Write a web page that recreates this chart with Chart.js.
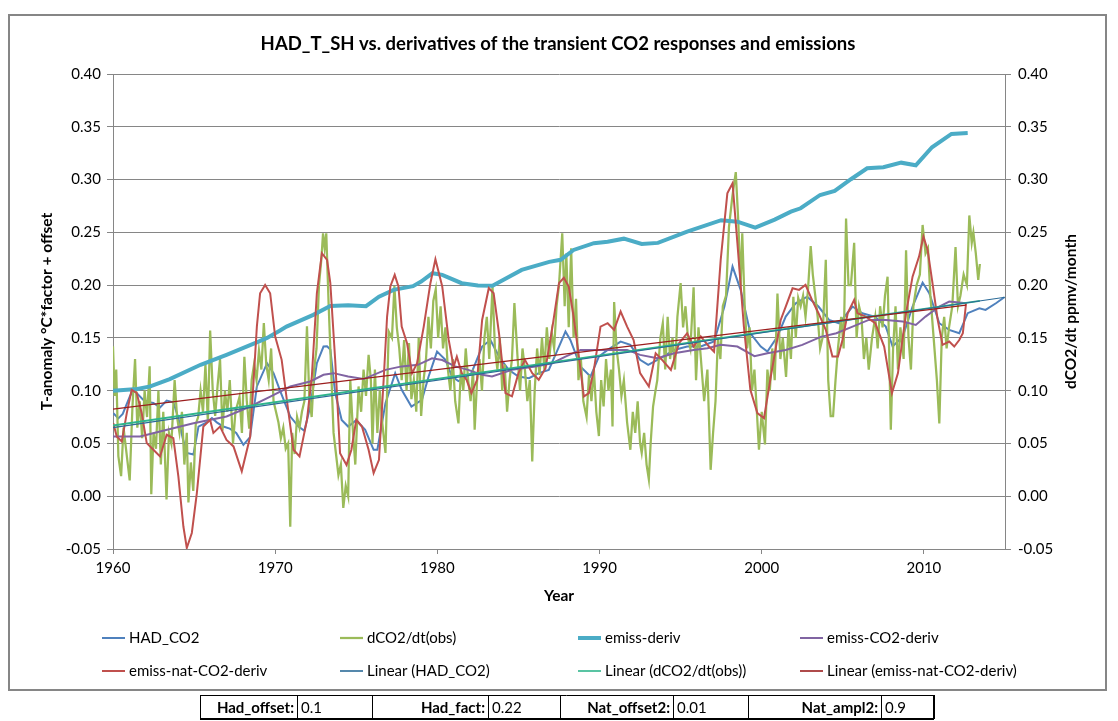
<!DOCTYPE html>
<html><head><meta charset="utf-8">
<script src="https://cdn.jsdelivr.net/npm/chart.js@4/dist/chart.umd.min.js"></script>
<style>
html,body{margin:0;padding:0;background:#fff;}
canvas{display:block;}
</style></head><body>
<canvas id="c" width="1118" height="721"></canvas>
<script>
// ---------- DATA ----------
const chartTitle = 'HAD_T_SH vs. derivatives of the transient CO2 responses and emissions';
const xAxisTitle = 'Year';
const yAxisTitle = 'T-anomaly °C*factor + offset';
const y2AxisTitle = 'dCO2/dt ppmv/month';
const xTickValues = [1960, 1970, 1980, 1990, 2000, 2010];
const yTickValues = [-0.05, 0.00, 0.05, 0.10, 0.15, 0.20, 0.25, 0.30, 0.35, 0.40];
const tableLabels = ['Had_offset:', 'Had_fact:', 'Nat_offset2:', 'Nat_ampl2:'];
const tableValues = ['0.1', '0.22', '0.01', '0.9'];

const hadCO2 = [[1960.02,0.0787],[1960.33,0.0737],[1960.6,0.078],[1961.05,0.095],[1961.25,0.1003],[1961.5,0.097],[1961.87,0.0913],[1962.2,0.089],[1962.49,0.0884],[1962.9,0.084],[1963.31,0.0906],[1963.72,0.089],[1964.03,0.0742],[1964.3,0.055],[1964.55,0.041],[1964.96,0.0395],[1965.27,0.066],[1965.78,0.070],[1966.1,0.074],[1966.4,0.070],[1966.8,0.066],[1967.2,0.064],[1967.6,0.060],[1968.04,0.0487],[1968.45,0.056],[1968.87,0.104],[1969.5,0.126],[1969.9,0.1166],[1970.3,0.100],[1970.93,0.0755],[1971.44,0.066],[1971.8,0.062],[1972.16,0.085],[1972.57,0.126],[1972.98,0.1418],[1973.2,0.142],[1973.4,0.139],[1973.7,0.0977],[1974.1,0.0723],[1974.5,0.066],[1975.0,0.072],[1975.55,0.0629],[1976.07,0.044],[1976.3,0.044],[1976.8,0.0882],[1977.4,0.1166],[1977.8,0.1008],[1978.4,0.085],[1979.05,0.0913],[1979.46,0.1134],[1979.98,0.137],[1980.5,0.1292],[1980.9,0.1134],[1981.3,0.109],[1981.7,0.112],[1982.1,0.1166],[1982.76,0.1418],[1983.27,0.148],[1983.8,0.1323],[1984.4,0.1197],[1985.0,0.1134],[1985.65,0.1118],[1986.25,0.1166],[1986.87,0.1197],[1987.5,0.1418],[1987.9,0.156],[1988.2,0.148],[1988.83,0.1228],[1989.44,0.1134],[1989.96,0.1323],[1990.5,0.1386],[1991.3,0.1465],[1991.9,0.1434],[1992.5,0.1292],[1993.0,0.1244],[1993.77,0.1308],[1994.6,0.1386],[1995.4,0.1418],[1996.24,0.1418],[1997.06,0.1466],[1997.7,0.1797],[1998.2,0.2175],[1998.7,0.1955],[1999.3,0.1544],[1999.94,0.1418],[2000.35,0.137],[2000.97,0.1513],[2001.48,0.1702],[2002.1,0.1828],[2002.8,0.189],[2003.5,0.1797],[2004.15,0.167],[2004.77,0.1639],[2005.6,0.1797],[2006.2,0.1733],[2007.0,0.170],[2007.65,0.1607],[2008.07,0.1418],[2008.7,0.1513],[2009.3,0.1797],[2009.92,0.2024],[2010.33,0.1923],[2010.95,0.1639],[2011.56,0.1576],[2012.18,0.1544],[2012.7,0.1734],[2013.42,0.1781],[2013.8,0.1765],[2014.44,0.1828],[2014.96,0.1885]];

const dCO2obs = [[1960.00,0.142],[1960.10,0.095],[1960.20,0.120],[1960.33,0.038],[1960.50,0.019],[1960.65,0.065],[1960.80,0.045],[1961.03,0.015],[1961.20,0.085],[1961.36,0.130],[1961.50,0.065],[1961.65,0.090],[1961.80,0.055],[1961.95,0.100],[1962.10,0.075],[1962.26,0.123],[1962.36,0.002],[1962.50,0.060],[1962.65,0.045],[1962.80,0.100],[1962.95,0.030],[1963.10,0.080],[1963.30,-0.003],[1963.45,0.060],[1963.60,0.050],[1963.80,0.110],[1963.95,0.075],[1964.10,0.060],[1964.25,0.080],[1964.40,0.030],[1964.55,0.060],[1964.65,-0.006],[1964.80,0.032],[1964.95,0.005],[1965.10,0.068],[1965.25,0.075],[1965.40,0.100],[1965.55,0.080],[1965.70,0.125],[1965.85,0.070],[1965.99,0.157],[1966.15,0.100],[1966.30,0.076],[1966.45,0.105],[1966.60,0.130],[1966.75,0.062],[1966.90,0.100],[1967.05,0.080],[1967.20,0.110],[1967.40,0.050],[1967.55,0.080],[1967.80,0.094],[1967.95,0.060],[1968.10,0.132],[1968.25,0.090],[1968.40,0.064],[1968.55,0.110],[1968.70,0.125],[1968.85,0.110],[1969.00,0.138],[1969.15,0.120],[1969.30,0.164],[1969.45,0.125],[1969.60,0.110],[1969.75,0.140],[1969.90,0.090],[1970.05,0.080],[1970.20,0.070],[1970.35,0.055],[1970.50,0.065],[1970.65,0.045],[1970.80,0.050],[1970.93,-0.029],[1971.05,0.060],[1971.20,0.040],[1971.35,0.075],[1971.50,0.065],[1971.65,0.080],[1971.80,0.090],[1971.96,0.161],[1972.10,0.095],[1972.25,0.075],[1972.40,0.120],[1972.55,0.140],[1972.70,0.200],[1972.85,0.225],[1972.95,0.249],[1973.05,0.235],[1973.15,0.249],[1973.30,0.180],[1973.45,0.120],[1973.60,0.060],[1973.75,0.040],[1973.90,0.020],[1974.05,0.030],[1974.20,-0.011],[1974.35,0.010],[1974.50,0.000],[1974.63,0.110],[1974.80,0.060],[1974.94,0.030],[1975.14,0.104],[1975.30,0.080],[1975.45,0.120],[1975.60,0.095],[1975.76,0.134],[1975.90,0.110],[1976.00,0.050],[1976.15,0.120],[1976.30,0.060],[1976.45,0.100],[1976.60,0.070],[1976.80,0.041],[1977.00,0.156],[1977.20,0.150],[1977.35,0.199],[1977.50,0.160],[1977.65,0.140],[1977.80,0.110],[1977.95,0.148],[1978.10,0.100],[1978.25,0.145],[1978.40,0.092],[1978.55,0.110],[1978.70,0.080],[1978.85,0.150],[1979.00,0.076],[1979.15,0.110],[1979.30,0.130],[1979.45,0.170],[1979.60,0.140],[1979.75,0.185],[1979.90,0.196],[1980.05,0.150],[1980.20,0.180],[1980.35,0.140],[1980.50,0.160],[1980.65,0.120],[1980.80,0.100],[1980.95,0.130],[1981.10,0.090],[1981.30,0.069],[1981.45,0.120],[1981.60,0.100],[1981.75,0.140],[1981.90,0.110],[1982.05,0.090],[1982.20,0.120],[1982.30,0.063],[1982.45,0.110],[1982.60,0.130],[1982.75,0.100],[1982.90,0.150],[1983.05,0.170],[1983.20,0.130],[1983.40,0.199],[1983.55,0.140],[1983.70,0.120],[1983.85,0.150],[1984.00,0.100],[1984.15,0.125],[1984.30,0.080],[1984.45,0.110],[1984.60,0.130],[1984.75,0.183],[1984.95,0.130],[1985.10,0.100],[1985.25,0.140],[1985.40,0.120],[1985.55,0.090],[1985.70,0.110],[1985.85,0.033],[1986.00,0.100],[1986.15,0.140],[1986.30,0.115],[1986.45,0.150],[1986.60,0.120],[1986.75,0.160],[1986.90,0.130],[1987.05,0.155],[1987.20,0.140],[1987.35,0.180],[1987.50,0.200],[1987.70,0.249],[1987.85,0.180],[1987.95,0.230],[1988.10,0.160],[1988.25,0.235],[1988.40,0.150],[1988.55,0.187],[1988.70,0.110],[1988.85,0.130],[1989.00,0.090],[1989.20,0.075],[1989.35,0.115],[1989.50,0.090],[1989.65,0.120],[1989.80,0.080],[1989.96,0.057],[1990.10,0.110],[1990.25,0.085],[1990.40,0.130],[1990.55,0.100],[1990.70,0.120],[1990.80,0.066],[1990.90,0.184],[1991.05,0.140],[1991.20,0.120],[1991.35,0.095],[1991.50,0.110],[1991.70,0.070],[1991.90,0.044],[1992.05,0.080],[1992.20,0.060],[1992.35,0.090],[1992.50,0.050],[1992.60,0.041],[1992.75,0.060],[1992.90,0.030],[1993.04,0.016],[1993.15,0.050],[1993.30,0.085],[1993.45,0.100],[1993.56,0.110],[1993.75,0.150],[1993.90,0.164],[1994.05,0.120],[1994.20,0.170],[1994.35,0.130],[1994.50,0.150],[1994.65,0.120],[1994.80,0.170],[1995.00,0.202],[1995.15,0.160],[1995.30,0.180],[1995.45,0.150],[1995.60,0.140],[1995.80,0.198],[1995.95,0.110],[1996.10,0.160],[1996.25,0.130],[1996.45,0.090],[1996.65,0.120],[1996.85,0.025],[1997.00,0.060],[1997.15,0.090],[1997.30,0.150],[1997.45,0.130],[1997.60,0.180],[1997.80,0.190],[1997.98,0.255],[1998.19,0.284],[1998.40,0.307],[1998.55,0.262],[1998.70,0.200],[1998.80,0.249],[1998.95,0.180],[1999.10,0.140],[1999.25,0.160],[1999.40,0.100],[1999.55,0.120],[1999.70,0.080],[1999.83,0.044],[2000.00,0.080],[2000.20,0.049],[2000.35,0.120],[2000.50,0.100],[2000.65,0.140],[2000.80,0.110],[2000.97,0.192],[2001.15,0.130],[2001.30,0.150],[2001.50,0.113],[2001.65,0.160],[2001.80,0.130],[2001.95,0.189],[2002.10,0.150],[2002.25,0.188],[2002.40,0.180],[2002.55,0.190],[2002.70,0.170],[2002.85,0.195],[2003.02,0.237],[2003.15,0.210],[2003.30,0.190],[2003.45,0.170],[2003.60,0.140],[2003.75,0.150],[2003.95,0.224],[2004.10,0.110],[2004.25,0.076],[2004.40,0.076],[2004.55,0.110],[2004.70,0.140],[2004.90,0.170],[2005.05,0.140],[2005.20,0.263],[2005.35,0.200],[2005.50,0.200],[2005.70,0.240],[2005.85,0.150],[2006.00,0.180],[2006.15,0.170],[2006.30,0.130],[2006.45,0.150],[2006.60,0.120],[2006.80,0.150],[2007.00,0.170],[2007.15,0.140],[2007.30,0.180],[2007.45,0.160],[2007.60,0.190],[2007.76,0.208],[2007.96,0.063],[2008.10,0.140],[2008.25,0.180],[2008.40,0.120],[2008.55,0.160],[2008.75,0.130],[2008.90,0.233],[2009.05,0.150],[2009.20,0.120],[2009.35,0.180],[2009.55,0.200],[2009.75,0.210],[2009.92,0.257],[2010.10,0.230],[2010.25,0.235],[2010.40,0.190],[2010.60,0.150],[2010.80,0.110],[2010.95,0.069],[2011.10,0.150],[2011.25,0.170],[2011.40,0.140],[2011.55,0.160],[2011.75,0.180],[2011.95,0.236],[2012.10,0.180],[2012.25,0.190],[2012.45,0.210],[2012.65,0.200],[2012.80,0.266],[2012.95,0.240],[2013.05,0.250],[2013.20,0.230],[2013.35,0.205],[2013.45,0.220]];

const emissDeriv = [[1960.0,0.100],[1961.5,0.1015],[1962.3,0.104],[1963.5,0.111],[1965.4,0.1245],[1967.0,0.134],[1968.9,0.146],[1969.5,0.150],[1970.3,0.157],[1970.7,0.1607],[1972.35,0.1718],[1973.4,0.1803],[1974.5,0.181],[1975.6,0.1800],[1976.4,0.189],[1977.3,0.1955],[1978.5,0.199],[1979.0,0.2034],[1979.7,0.2113],[1980.3,0.2097],[1981.5,0.2018],[1982.5,0.1997],[1983.4,0.1995],[1985.2,0.2144],[1986.9,0.222],[1987.6,0.224],[1988.4,0.2333],[1989.65,0.2397],[1990.5,0.241],[1991.5,0.2440],[1992.6,0.2390],[1993.6,0.2400],[1995.4,0.2507],[1997.5,0.2615],[1998.5,0.2601],[1999.6,0.2545],[2000.8,0.2620],[2001.8,0.2696],[2002.4,0.2728],[2003.6,0.2854],[2004.5,0.2892],[2005.5,0.3003],[2006.5,0.3107],[2007.5,0.3117],[2008.6,0.316],[2009.5,0.3135],[2010.5,0.3306],[2011.7,0.3432],[2012.7,0.344]];

const emissCO2Deriv = [[1960.0,0.0566],[1961.67,0.0566],[1962.9,0.0613],[1964.96,0.0692],[1967.0,0.0755],[1968.46,0.085],[1969.7,0.0944],[1970.93,0.1039],[1972.16,0.1087],[1972.98,0.115],[1973.6,0.1166],[1974.5,0.1135],[1975.45,0.111],[1976.8,0.1197],[1977.8,0.123],[1978.8,0.1245],[1979.67,0.1307],[1980.3,0.129],[1981.1,0.123],[1981.9,0.1197],[1982.76,0.115],[1983.37,0.1134],[1984.6,0.1197],[1986.05,0.123],[1987.08,0.126],[1987.9,0.1323],[1988.83,0.1386],[1990.06,0.1386],[1991.7,0.1386],[1992.5,0.1339],[1993.56,0.1307],[1994.6,0.1355],[1995.8,0.1386],[1996.65,0.1402],[1997.47,0.1434],[1998.5,0.1418],[1999.55,0.1327],[2000.35,0.1355],[2001.48,0.1386],[2002.5,0.1434],[2003.64,0.151],[2004.6,0.1544],[2005.6,0.1607],[2006.6,0.167],[2007.65,0.167],[2008.7,0.1655],[2009.5,0.1623],[2010.1,0.1702],[2010.95,0.1797],[2011.56,0.1844],[2012.6,0.1828]];

const emissNatCO2Deriv = [[1960.02,0.0692],[1960.23,0.0566],[1960.54,0.0518],[1960.85,0.0787],[1961.15,0.1008],[1961.46,0.098],[1961.77,0.0787],[1962.08,0.0503],[1962.49,0.044],[1962.9,0.0377],[1963.31,0.0582],[1963.72,0.055],[1964.03,0.0187],[1964.34,-0.0287],[1964.55,-0.049],[1964.86,-0.0348],[1965.17,0.003],[1965.57,0.066],[1965.99,0.0723],[1966.19,0.060],[1966.6,0.066],[1967.0,0.0534],[1967.43,0.0472],[1967.94,0.0236],[1968.46,0.0566],[1968.87,0.1607],[1969.07,0.1923],[1969.38,0.2002],[1969.69,0.1923],[1970.0,0.1513],[1970.4,0.1292],[1970.8,0.0818],[1971.13,0.044],[1971.5,0.0377],[1971.96,0.0723],[1972.26,0.1134],[1972.57,0.1923],[1972.88,0.2302],[1973.2,0.2239],[1973.4,0.2018],[1973.7,0.129],[1974.0,0.0408],[1974.4,0.0297],[1974.7,0.044],[1975.0,0.0723],[1975.35,0.066],[1975.76,0.044],[1976.07,0.0219],[1976.4,0.0345],[1976.7,0.1134],[1976.9,0.1702],[1977.1,0.1987],[1977.37,0.2097],[1977.6,0.1987],[1977.8,0.1607],[1978.13,0.145],[1978.44,0.1166],[1978.75,0.126],[1979.16,0.1607],[1979.57,0.2018],[1979.88,0.2245],[1980.3,0.1987],[1980.7,0.1481],[1981.0,0.1228],[1981.2,0.1323],[1981.5,0.1166],[1981.8,0.1103],[1982.1,0.0977],[1982.45,0.1103],[1982.76,0.167],[1983.17,0.1971],[1983.47,0.1923],[1983.8,0.1544],[1984.2,0.0977],[1984.6,0.0946],[1985.0,0.1166],[1985.4,0.1292],[1985.85,0.1166],[1986.25,0.1103],[1986.67,0.1213],[1987.1,0.1607],[1987.5,0.2018],[1987.8,0.207],[1988.1,0.1987],[1988.4,0.1702],[1988.7,0.1355],[1989.03,0.0945],[1989.34,0.0977],[1989.65,0.1197],[1990.06,0.1607],[1990.5,0.1639],[1990.9,0.1576],[1991.3,0.175],[1991.7,0.1607],[1992.1,0.148],[1992.5,0.1166],[1993.04,0.104],[1993.46,0.1355],[1993.87,0.129],[1994.4,0.1197],[1994.9,0.145],[1995.4,0.1544],[1995.8,0.1418],[1996.24,0.1513],[1996.75,0.1418],[1997.06,0.137],[1997.47,0.2239],[1997.88,0.287],[1998.2,0.2965],[1998.5,0.2397],[1998.9,0.1607],[1999.3,0.1008],[1999.73,0.0787],[2000.14,0.074],[2000.56,0.1134],[2001.17,0.167],[2001.48,0.1797],[2001.9,0.197],[2002.3,0.1955],[2002.7,0.2002],[2003.1,0.186],[2003.5,0.1734],[2003.95,0.1576],[2004.36,0.1323],[2004.7,0.1323],[2004.98,0.148],[2005.3,0.1734],[2005.7,0.186],[2005.9,0.1734],[2006.42,0.1702],[2007.0,0.1639],[2007.55,0.1418],[2008.03,0.0976],[2008.4,0.1166],[2008.9,0.1734],[2009.3,0.208],[2009.7,0.227],[2009.97,0.246],[2010.23,0.2333],[2010.5,0.2049],[2010.85,0.167],[2011.15,0.1434],[2011.56,0.1465],[2011.87,0.1418],[2012.18,0.148],[2012.4,0.1544],[2012.6,0.1828]];

// trend lines: end points
const linearHadCO2 = [[1960,0.065],[2015,0.1885]];
const linearDCO2obs = [[1960,0.067],[2013.45,0.185]];
const linearEmissNat = [[1960,0.0826],[2012.6,0.181]];

// ---------- CHART ----------
const FONT = 'Lato, "Liberation Sans", sans-serif';
const GRID = '#868686';
const toXY = arr => arr.map(p => ({x: p[0], y: p[1]}));

function ds(label, data, color, width, order, legendWidth) {
  return {label, data: toXY(data), borderColor: color, backgroundColor: color,
    borderWidth: width, pointRadius: 0, pointHoverRadius: 0, tension: 0,
    fill: false, order, legendWidth: legendWidth || width, yAxisID: 'y'};
}

const datasets = [
  ds('HAD_CO2', hadCO2, '#4F81BD', 2, 8),
  ds('dCO2/dt(obs)', dCO2obs, '#9BBB59', 2.25, 7),
  ds('emiss-deriv', emissDeriv, '#4BACC6', 4, 6),
  ds('emiss-CO2-deriv', emissCO2Deriv, '#8064A2', 2, 5),
  ds('emiss-nat-CO2-deriv', emissNatCO2Deriv, '#C0504D', 2, 4),
  ds('Linear (HAD_CO2)', linearHadCO2, '#2A6A97', 1.2, 2, 1.6),
  ds('Linear (dCO2/dt(obs))', linearDCO2obs, '#2FB58C', 1.8, 3, 1.6),
  ds('Linear (emiss-nat-CO2-deriv)', linearEmissNat, '#9B1D1D', 1.2, 1, 1.6)
];

const decor = {
  id: 'decor',
  afterDraw(chart) {
    const ctx = chart.ctx;
    const ca = chart.chartArea;
    ctx.save();
    // outer frame
    ctx.strokeStyle = GRID; ctx.lineWidth = 2;
    ctx.strokeRect(9, 15, 1097, 675);
    // title
    ctx.fillStyle = '#000';
    ctx.textAlign = 'center'; ctx.textBaseline = 'middle';
    ctx.font = 'bold 18.5px ' + FONT;
    ctx.fillText(chartTitle, 558, 44);
    // axis titles
    ctx.font = 'bold 15.5px ' + FONT;
    ctx.fillText(xAxisTitle, (ca.left + ca.right) / 2, 596);
    ctx.save(); ctx.translate(47, (ca.top + ca.bottom) / 2); ctx.rotate(-Math.PI / 2);
    ctx.fillText(yAxisTitle, 0, 0); ctx.restore();
    ctx.save(); ctx.translate(1071, (ca.top + ca.bottom) / 2); ctx.rotate(-Math.PI / 2);
    ctx.fillText(y2AxisTitle, 0, 0); ctx.restore();
    // legend (4 columns x 2 rows)
    const cols = [102, 340, 578, 800];
    const rows = [638, 671];
    ctx.font = '15px ' + FONT; ctx.textAlign = 'left';
    chart.data.datasets.forEach((d, i) => {
      const x = cols[i % 4], y = rows[Math.floor(i / 4)];
      ctx.strokeStyle = d.borderColor; ctx.lineWidth = d.legendWidth;
      ctx.beginPath(); ctx.moveTo(x, y); ctx.lineTo(x + 23, y); ctx.stroke();
      ctx.fillStyle = '#000';
      ctx.fillText(d.label, x + 27, y);
    });
    // parameter table
    const edges = [200, 297, 372, 488, 560, 673, 748, 881, 933];
    const top = 695, bot = 719;
    ctx.strokeStyle = '#000'; ctx.lineWidth = 1;
    ctx.beginPath();
    ctx.moveTo(edges[0], top + 0.5); ctx.lineTo(edges[8], top + 0.5);
    edges.forEach(e => { ctx.moveTo(e + 0.5, top); ctx.lineTo(e + 0.5, bot); });
    ctx.stroke();
    ctx.lineWidth = 2;
    ctx.beginPath();
    ctx.moveTo(edges[0], bot); ctx.lineTo(edges[8] + 1, bot);
    ctx.moveTo(edges[8] + 1, top); ctx.lineTo(edges[8] + 1, bot);
    ctx.stroke();
    ctx.fillStyle = '#000';
    for (let k = 0; k < 4; k++) {
      ctx.font = 'bold 15px ' + FONT; ctx.textAlign = 'right';
      ctx.fillText(tableLabels[k], edges[2 * k + 1] - 3, (top + bot) / 2 + 1);
      ctx.font = '15px ' + FONT; ctx.textAlign = 'left';
      ctx.fillText(tableValues[k], edges[2 * k + 1] + 4, (top + bot) / 2 + 1);
    }
    ctx.restore();
  }
};

const yTicksCommon = {
  color: '#000', font: {family: FONT, size: 15}, padding: 6,
  callback: v => Number(v).toFixed(2)
};

new Chart(document.getElementById('c'), {
  type: 'line',
  data: {datasets},
  options: {
    responsive: false, animation: false, devicePixelRatio: 1,
    layout: {padding: {top: 74, left: 0, right: 0, bottom: 0}},
    plugins: {legend: {display: false}, title: {display: false}, tooltip: {enabled: false}},
    scales: {
      x: {
        type: 'linear', position: 'bottom', min: 1960, max: 2015,
        afterBuildTicks: s => { s.ticks = xTickValues.map(v => ({value: v})); },
        afterFit: s => { s.height = 172; },
        ticks: {color: '#000', font: {family: FONT, size: 15}, padding: 5, maxRotation: 0, autoSkip: false,
          callback: v => String(v)},
        grid: {drawOnChartArea: false, drawTicks: true, tickLength: 5, color: GRID, lineWidth: 1},
        border: {display: true, color: GRID, width: 1}
      },
      y: {
        type: 'linear', position: 'left', min: -0.05, max: 0.40,
        afterBuildTicks: s => { s.ticks = yTickValues.map(v => ({value: v})); },
        afterFit: s => { s.width = 113; },
        ticks: yTicksCommon,
        grid: {color: GRID, lineWidth: 1, tickLength: 6, drawTicks: true},
        border: {display: true, color: GRID, width: 1}
      },
      y2: {
        type: 'linear', position: 'right', min: -0.05, max: 0.40,
        afterBuildTicks: s => { s.ticks = yTickValues.map(v => ({value: v})); },
        afterFit: s => { s.width = 113; },
        ticks: Object.assign({}, yTicksCommon, {padding: 7}),
        grid: {drawOnChartArea: false, color: GRID, lineWidth: 1, tickLength: 6, drawTicks: true},
        border: {display: true, color: GRID, width: 1}
      }
    }
  },
  plugins: [decor]
});
</script>
</body></html>
